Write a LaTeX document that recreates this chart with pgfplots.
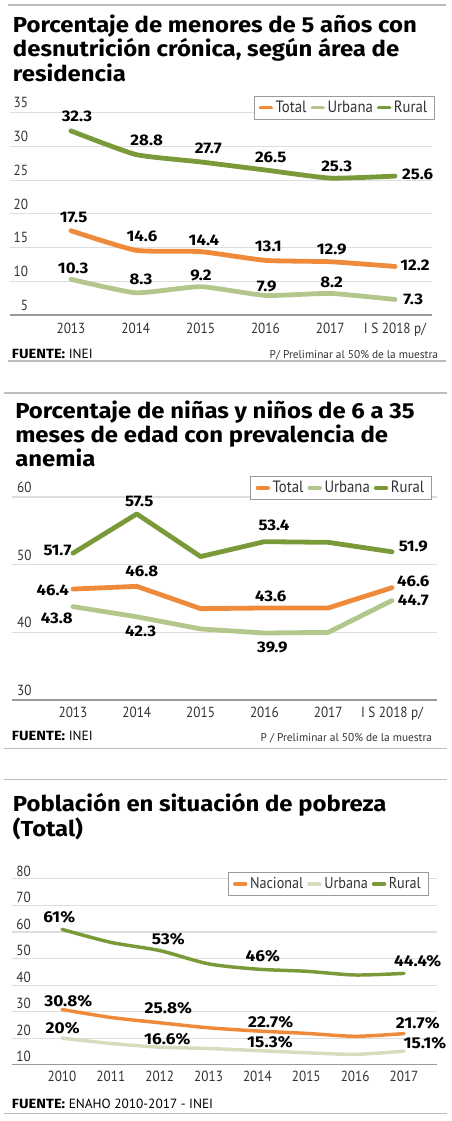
\documentclass[border=0pt]{standalone}
\usepackage{pgfplots}
\pgfplotsset{compat=1.18}
\usepackage{pgfplotstable}
\usepackage{fontspec}
\setmainfont{PT Sans}
\newfontfamily\fira{Fira Sans}
\newfontfamily\firaw{Fira Sans}[FakeStretch=1.1]
\newfontfamily\tickf{PT Sans}[FakeStretch=0.9]
\definecolor{cOr}{HTML}{EE8A3A}
\definecolor{cLg}{HTML}{B3C78C}
\definecolor{cDg}{HTML}{7A9A3A}
\definecolor{cLgt}{HTML}{D6DDBF}
\definecolor{cGrid}{HTML}{DDDDDD}
\definecolor{cRule}{HTML}{BDBDBD}
\definecolor{cTxt}{HTML}{333333}
\definecolor{cAx}{HTML}{9A9A9A}

\pgfplotstableread{
x total urbana rural
0 17.5 10.3 32.3
1 14.6 8.3 28.8
2 14.4 9.2 27.7
3 13.1 7.9 26.5
4 12.9 8.2 25.3
5 12.2 7.3 25.6
}\tA
\pgfplotstableread{
x total urbana rural
0 46.4 43.8 51.7
1 46.8 42.3 57.5
2 43.5 40.5 51.2
3 43.6 39.9 53.4
4 43.6 40.0 53.3
5 46.6 44.7 51.9
}\tB
\pgfplotstableread{
x nacional urbana rural
0 30.8 20.0 61.0
1 27.8 18.0 56.1
2 25.8 16.6 53.0
3 23.9 16.1 48.0
4 22.7 15.3 46.0
5 21.8 14.5 45.2
6 20.7 13.9 43.8
7 21.7 15.1 44.4
}\tC

\tikzset{
  lab/.style={font=\firaw\bfseries\fontsize{11.5}{12}\selectfont, inner sep=0pt, text=black},
  labc/.style={font=\firaw\bfseries\fontsize{11.8}{12}\selectfont, inner sep=0pt, text=black},
  ttl/.style={anchor=base west, inner sep=0pt, font=\firaw\bfseries\fontsize{16.3}{18}\selectfont},
  foot/.style={anchor=base west, inner sep=0pt, font=\fontsize{10}{11}\selectfont, text=black},
  footr/.style={anchor=base east, inner sep=0pt, font=\fontsize{8.5}{10}\selectfont, text=cTxt},
}
\pgfplotsset{
  base/.style={
    scale only axis,
    anchor=south west,
    clip=false,
    axis line style={draw=none},
    major tick length=0pt,
    ymajorgrids,
    major grid style={cGrid, line width=0.8pt},
    /pgf/number format/assume math mode=true,
    yticklabel style={anchor=south east, inner sep=0pt, font=\tickf\fontsize{11}{12}\selectfont, text=cTxt},
    xticklabel style={anchor=north, inner sep=0pt, font=\tickf\fontsize{11}{12}\selectfont, text=cTxt},
    legend style={draw=cAx, line width=0.6pt, font=\tickf\fontsize{12.3}{13}\selectfont, text=cTxt,
      legend columns=3, inner xsep=3.5pt, inner ysep=1.5pt,
      /tikz/every even column/.append style={column sep=1pt}},
    legend image code/.code={\draw[line width=2.8pt, line cap=round] (0pt,0pt) -- (8pt,0pt);},
    every axis plot/.append style={line cap=round, line join=round},
  },
}

\begin{document}
\begin{tikzpicture}[x=0.75pt, y=-0.75pt]
\path[use as bounding box] (0,0) rectangle (452,1121);

% ---------- Chart 1 ----------
\draw[cRule, line width=1.5pt] (8,5) -- (446,5);
\node[ttl] at (12.7,32.7) {Porcentaje de menores de 5 años con};
\node[ttl] at (12.7,56.9) {desnutrición crónica, según área de};
\node[ttl] at (12.7,81.1) {residencia};

\begin{axis}[base,
  at={(7.5pt,-236.25pt)}, width=316.5pt, height=151.73pt,
  xmin=-0.941, xmax=5.571, ymin=5, ymax=35,
  ytick={5,10,...,35},
  xtick={0,...,5}, xticklabels={2013,2014,2015,2016,2017,I S 2018 p/},
  yticklabel style={xshift=13.7pt, yshift=3.3pt},
  xticklabel style={yshift=-6.2pt},
  legend style={at={(1.007,1.084)}, anchor=north east},
]
\draw[cAx, line width=0.9pt] (rel axis cs:0,0) -- (rel axis cs:1,0);
\addplot[cOr, line width=3.6pt, smooth, tension=0.3] table[x=x,y=total]{\tA};
\addplot[cLg, line width=3.6pt, smooth, tension=0.3] table[x=x,y=urbana]{\tA};
\addplot[cDg, line width=3.6pt, smooth, tension=0.3] table[x=x,y=rural]{\tA};
\legend{Total,Urbana,Rural}
\node[lab] at (axis cs:0.093,34.41) {32.3};
\node[lab] at (axis cs:1.168,30.95) {28.8};
\node[lab] at (axis cs:2.119,29.72) {27.7};
\node[lab] at (axis cs:3.082,28.39) {26.5};
\node[lab] at (axis cs:4.100,27.10) {25.3};
\node[lab] at (axis cs:5.350,25.87) {25.6};
\node[lab] at (axis cs:0.042,19.49) {17.5};
\node[lab] at (axis cs:1.096,16.72) {14.6};
\node[lab] at (axis cs:2.052,16.02) {14.4};
\node[lab] at (axis cs:3.045,15.23) {13.1};
\node[lab] at (axis cs:4.023,14.74) {12.9};
\node[lab] at (axis cs:5.309,12.31) {12.2};
\node[lab] at (axis cs:0.035,11.93) {10.3};
\node[lab] at (axis cs:1.080,10.29) {8.3};
\node[lab] at (axis cs:2.006,10.93) {9.2};
\node[lab] at (axis cs:3.020,9.30) {7.9};
\node[lab] at (axis cs:4.023,9.79) {8.2};
\node[lab] at (axis cs:5.282,7.33) {7.3};
\end{axis}

\node[foot] at (11.7,358) {{\firaw\bfseries FUENTE:} INEI};
\node[footr] at (438.3,358) {P/ Preliminar al 50\% de la muestra};
\draw[cRule, line width=1.2pt] (8,361) -- (446,361);

% ---------- Chart 2 ----------
\draw[cRule, line width=1.2pt] (4,392.7) -- (446.7,392.7);
\node[ttl] at (15,418.3) {Porcentaje de niñas y niños de 6 a 35};
\node[ttl] at (15,442.5) {meses de edad con prevalencia de};
\node[ttl] at (15,466.7) {anemia};

\begin{axis}[base,
  at={(9pt,-525pt)}, width=318.75pt, height=152.25pt,
  xmin=-0.956, xmax=5.705, ymin=30, ymax=60,
  ytick={30,40,50,60},
  xtick={0,...,5}, xticklabels={2013,2014,2015,2016,2017,I S 2018 p/},
  yticklabel style={xshift=14.8pt, yshift=3pt},
  xticklabel style={yshift=-5pt},
  legend style={at={(0.988,1.103)}, anchor=north east},
]
\draw[cAx, line width=0.9pt] (rel axis cs:0,0) -- (rel axis cs:1,0);
\addplot[cOr, line width=3.6pt] table[x=x,y=total]{\tB};
\addplot[cLg, line width=3.6pt] table[x=x,y=urbana]{\tB};
\addplot[cDg, line width=3.6pt] table[x=x,y=rural]{\tB};
\legend{Total,Urbana,Rural}
\node[lab] at (axis cs:-0.243,52.17) {51.7};
\node[lab] at (axis cs:1.038,59.30) {57.5};
\node[lab] at (axis cs:3.150,55.76) {53.4};
\node[lab] at (axis cs:5.334,52.65) {51.9};
\node[lab] at (axis cs:-0.318,46.26) {46.4};
\node[lab] at (axis cs:1.077,48.96) {46.8};
\node[lab] at (axis cs:3.099,45.37) {43.6};
\node[lab] at (axis cs:5.334,47.48) {46.6};
\node[lab] at (axis cs:-0.255,42.07) {43.8};
\node[lab] at (axis cs:1.061,40.09) {42.3};
\node[lab] at (axis cs:3.124,37.79) {39.9};
\node[lab] at (axis cs:5.334,44.67) {44.7};
\end{axis}

\node[foot] at (11.7,740) {{\firaw\bfseries FUENTE:} INEI};
\node[footr] at (432.3,741.7) {P / Preliminar al 50\% de la muestra};
\draw[cRule, line width=1.2pt] (4,748.3) -- (446.7,748.3);

% ---------- Chart 3 ----------
\draw[cRule, line width=1.2pt] (4,779.3) -- (446.7,779.3);
\node[ttl] at (12.7,811.7) {Población en situación de pobreza};
\node[ttl] at (12.7,836) {(Total)};

\begin{axis}[base,
  at={(9pt,-798.5pt)}, width=318.75pt, height=139.3pt,
  xmin=-1.023, xmax=7.675, ymin=10, ymax=80,
  ytick={10,20,...,80},
  xtick={0,...,7}, xticklabels={2010,2011,2012,2013,2014,2015,2016,2017},
  yticklabel style={xshift=14.25pt, yshift=1.8pt},
  xticklabel style={yshift=-4.5pt},
  legend style={at={(0.98,1.036)}, anchor=north east, font=\tickf\fontsize{11.8}{13}\selectfont},
]
\draw[cAx, line width=0.9pt] (rel axis cs:0,0) -- (rel axis cs:1,0);
\addplot[cOr, line width=2.6pt, smooth, tension=0.45] table[x=x,y=nacional]{\tC};
\addplot[cLgt, line width=2.6pt, smooth, tension=0.45] table[x=x,y=urbana]{\tC};
\addplot[cDg, line width=2.6pt, smooth, tension=0.45] table[x=x,y=rural]{\tC};
\legend{Nacional,Urbana,Rural}
\node[labc] at (axis cs:-0.055,65.79) {61\%};
\node[labc] at (axis cs:2.176,57.38) {53\%};
\node[labc] at (axis cs:4.108,50.97) {46\%};
\node[labc] at (axis cs:7.280,49.20) {44.4\%};
\node[labc] at (axis cs:0.129,34.12) {30.8\%};
\node[labc] at (axis cs:2.176,31.26) {25.8\%};
\node[labc] at (axis cs:4.271,26.21) {22.7\%};
\node[labc] at (axis cs:7.280,25.60) {21.7\%};
\node[labc] at (axis cs:0.014,23.95) {20\%};
\node[labc] at (axis cs:2.155,19.80) {16.6\%};
\node[labc] at (axis cs:4.257,18.56) {15.3\%};
\node[labc] at (axis cs:7.429,18.07) {15.1\%};
\end{axis}

\node[foot] at (11.7,1108.3) {{\firaw\bfseries FUENTE:} ENAHO 2010-2017 - INEI};
\draw[cRule, line width=1.2pt] (4,1113.3) -- (446.7,1113.3);
\end{tikzpicture}
\end{document}
